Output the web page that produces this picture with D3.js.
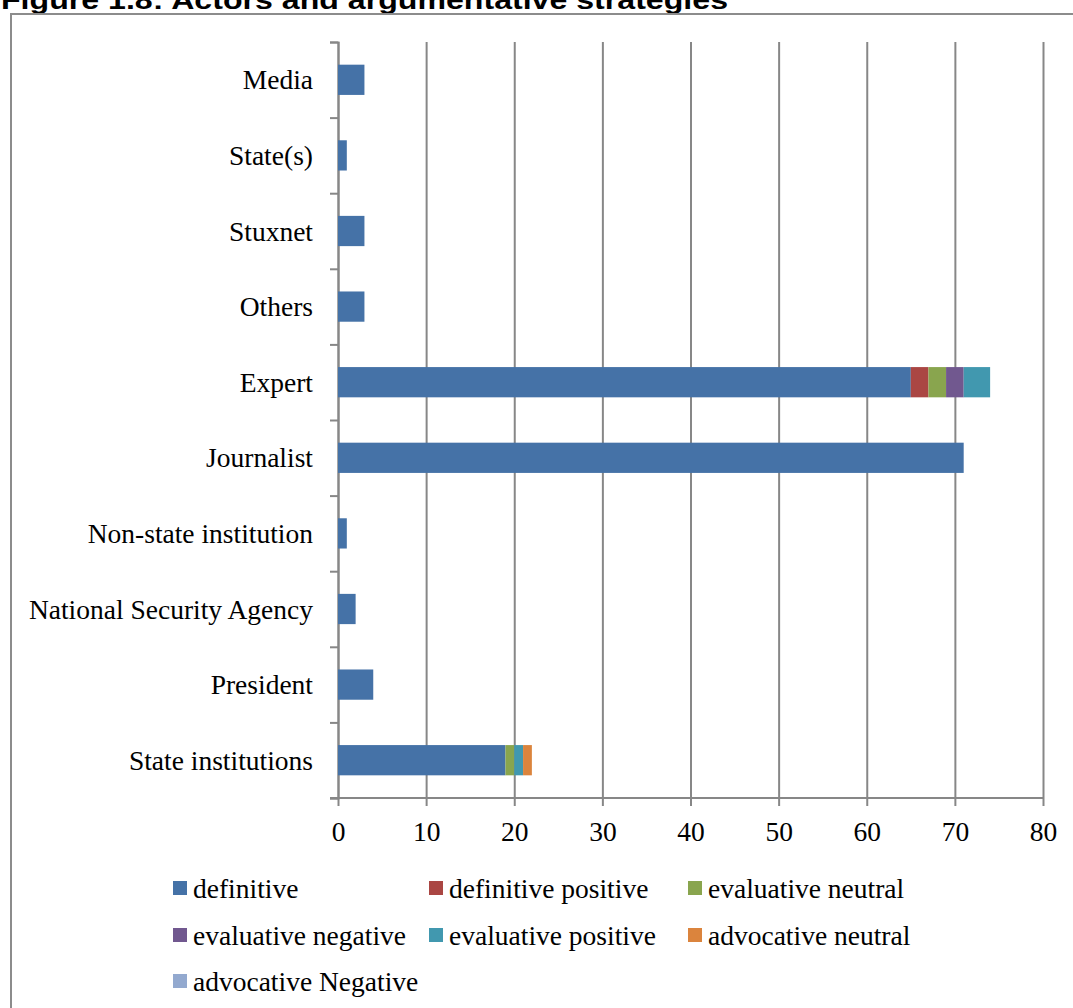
<!DOCTYPE html>
<html>
<head>
<meta charset="utf-8">
<script src="https://cdn.jsdelivr.net/npm/d3@7"></script>
<style>
  body { margin: 0; background: #fff; }
  .lbl { font-family: "Liberation Serif", serif; font-size: 27.5px; fill: #000; }
  .title { font-family: "Liberation Sans", Arial, sans-serif; font-weight: bold; font-size: 25px; fill: #000; }
</style>
</head>
<body>
<div id="chart"></div>
<script>
  var width = 1073;
  var height = 1008;
  var svg = d3.select("#chart")
      .append("svg")
      .attr("width", width)
      .attr("height", height);

  var margin = {top: 42, right: 30, bottom: 210, left: 338};

  // actors, top to bottom
  var categories = ["Media", "State(s)", "Stuxnet", "Others", "Expert", "Journalist",
    "Non-state institution", "National Security Agency", "President", "State institutions"];

  var seriesNames = ["definitive", "definitive positive", "evaluative neutral",
    "evaluative negative", "evaluative positive", "advocative neutral", "advocative Negative"];
  var colors = ["#4572A7", "#AA4643", "#89A54E", "#71588F", "#4198AF", "#DB843D", "#93A9CF"];

  var definitive          = [3, 1, 3, 3, 65, 71, 1, 2, 4, 19];
  var definitivePositive  = [0, 0, 0, 0, 2, 0, 0, 0, 0, 0];
  var evaluativeNeutral   = [0, 0, 0, 0, 2, 0, 0, 0, 0, 1];
  var evaluativeNegative  = [0, 0, 0, 0, 2, 0, 0, 0, 0, 0];
  var evaluativePositive  = [0, 0, 0, 0, 3, 0, 0, 0, 0, 1];
  var advocativeNeutral   = [0, 0, 0, 0, 0, 0, 0, 0, 0, 1];
  var advocativeNegative  = [0, 0, 0, 0, 0, 0, 0, 0, 0, 0];

  var xTicks = [0, 10, 20, 30, 40, 50, 60, 70, 80];

  var seriesValues = [definitive, definitivePositive, evaluativeNeutral,
    evaluativeNegative, evaluativePositive, advocativeNeutral, advocativeNegative];

  var rows = categories.map(function(c, i) {
    var r = {actor: c};
    seriesNames.forEach(function(s, j) { r[s] = seriesValues[j][i]; });
    return r;
  });
  var stacked = d3.stack().keys(seriesNames)(rows);

  var plotBottom = 798;
  var plotRight = 1043;

  var xScale = d3.scaleLinear()
    .domain([0, 80])
    .range([margin.left, plotRight]);

  var yScale = d3.scaleBand()
    .domain(categories)
    .range([margin.top, plotBottom])
    .paddingInner(0.6)
    .paddingOuter(0.3);

  // title (clipped at top like the source page)
  svg.append("text")
    .attr("class", "title")
    .attr("x", 1)
    .attr("y", 9)
    .attr("textLength", 727)
    .attr("lengthAdjust", "spacingAndGlyphs")
    .text("Figure 1.8: Actors and argumentative strategies");

  // frame
  svg.append("rect")
    .attr("x", 11).attr("y", 14)
    .attr("width", 1100).attr("height", 1100)
    .attr("fill", "none")
    .attr("stroke", "#8c8c8c")
    .attr("stroke-width", 2);

  // vertical gridlines + x axis
  var xAxis = svg.append("g")
    .attr("transform", `translate(0,${plotBottom})`)
    .call(d3.axisBottom(xScale).tickValues(xTicks)
      .tickSizeInner(-(plotBottom - margin.top)).tickSizeOuter(0).tickPadding(20));
  xAxis.select(".domain").remove();
  xAxis.selectAll(".tick line")
    .attr("y2", 8)
    .attr("y1", -(plotBottom - margin.top))
    .attr("stroke", "#878787")
    .attr("stroke-width", 2);
  xAxis.selectAll(".tick text")
    .attr("class", "lbl")
    .attr("dy", "0.32em")
    .attr("y", 34);

  svg.append("line")
    .attr("x1", margin.left - 8).attr("x2", plotRight)
    .attr("y1", plotBottom).attr("y2", plotBottom)
    .attr("stroke", "#878787").attr("stroke-width", 2);

  // y axis with ticks between categories
  var yEdge = d3.scaleLinear().domain([0, categories.length]).range([margin.top, plotBottom]);
  var yAxis = svg.append("g")
    .attr("transform", `translate(${margin.left},0)`)
    .call(d3.axisLeft(yEdge).ticks(categories.length).tickFormat("").tickSize(8).tickSizeOuter(8));
  yAxis.selectAll("line, path").attr("stroke", "#878787").attr("stroke-width", 2);

  // category labels
  svg.selectAll(".cat")
    .data(categories)
    .enter()
    .append("text")
      .attr("class", "lbl")
      .attr("x", 313)
      .attr("y", function(d) { return yScale(d) + yScale.bandwidth() / 2; })
      .attr("dy", "0.35em")
      .attr("text-anchor", "end")
      .text(function(d) { return d; });

  // bars
  svg.selectAll(".series")
    .data(stacked)
    .enter()
    .append("g")
      .attr("fill", function(d, i) { return colors[i]; })
    .selectAll("rect")
    .data(function(d) { return d.filter(function(p) { return p[1] > p[0]; }); })
    .enter()
    .append("rect")
      .attr("x", function(d) { return xScale(d[0]); })
      .attr("y", function(d) { return yScale(d.data.actor); })
      .attr("width", function(d) { return xScale(d[1]) - xScale(d[0]); })
      .attr("height", yScale.bandwidth());

  // legend
  var legendPos = [
    {x: 173, y: 888}, {x: 429, y: 888}, {x: 688, y: 888},
    {x: 173, y: 935}, {x: 429, y: 935}, {x: 688, y: 935},
    {x: 173, y: 981}
  ];
  var legend = svg.selectAll(".legend")
    .data(seriesNames)
    .enter()
    .append("g")
      .attr("transform", function(d, i) { return `translate(${legendPos[i].x},${legendPos[i].y})`; });
  legend.append("rect")
    .attr("x", 0).attr("y", -7)
    .attr("width", 14).attr("height", 14)
    .attr("fill", function(d, i) { return colors[i]; });
  legend.append("text")
    .attr("class", "lbl")
    .attr("x", 20)
    .attr("dy", "0.35em")
    .text(function(d) { return d; });
</script>
</body>
</html>
